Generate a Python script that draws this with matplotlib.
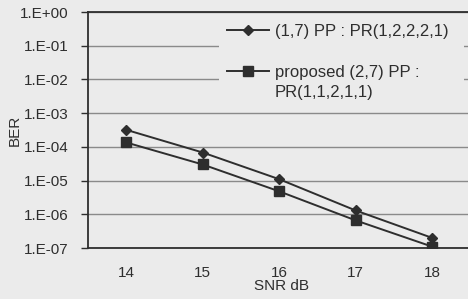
import numpy as np
import matplotlib
matplotlib.use('Agg')
import matplotlib.pyplot as plt
from matplotlib.lines import Line2D

plt.rcParams['font.family'] = ['Liberation Sans', 'DejaVu Sans']

# Data.
snr = [14, 15, 16, 17, 18]
ber_17pp = [3.2e-4, 6.8e-5, 1.1e-5, 1.3e-6, 2.0e-7]
ber_27pp = [1.35e-4, 3.0e-5, 4.8e-6, 6.6e-7, 1.1e-7]
ytick_vals = [1e0, 1e-1, 1e-2, 1e-3, 1e-4, 1e-5, 1e-6, 1e-7]
ytick_labels = ['1.E+00', '1.E-01', '1.E-02', '1.E-03', '1.E-04', '1.E-05', '1.E-06', '1.E-07']
label_17pp = '(1,7) PP : PR(1,2,2,2,1)'
label_27pp = ['proposed (2,7) PP :', 'PR(1,1,2,1,1)']

bg = '#ebebeb'
ink = '#2e2e2e'

fig = plt.figure(figsize=(4.68, 2.99), dpi=100, facecolor=bg)
ax = fig.add_axes([88/468., 1 - 248/299., 380/468., 236/299.])
ax.set_facecolor(bg)

l1, = ax.plot(snr, ber_17pp, '-D', color=ink, lw=1.4, ms=5.5)
l2, = ax.plot(snr, ber_27pp, '-s', color=ink, lw=1.4, ms=7)

ax.set_yscale('log')
ax.set_ylim(1e-7, 1e0)
ax.set_xlim(13.5, 18.47)
ax.set_yticks(ytick_vals)
ax.set_yticklabels(ytick_labels)
ax.minorticks_off()
ax.set_xticks(snr)
ax.tick_params(axis='x', length=0, pad=13, labelsize=11, colors=ink)
ax.tick_params(axis='y', length=5, width=1, pad=9, labelsize=11, colors=ink)

ax.grid(axis='y', color='#8a8a8a', lw=1)
ax.set_axisbelow(True)

for s in ['left', 'bottom', 'top']:
    ax.spines[s].set_color(ink)
    ax.spines[s].set_linewidth(1.3)
ax.spines['right'].set_visible(False)

ax.set_ylabel('BER', fontsize=11, color=ink)
ax.yaxis.set_label_coords(-0.175, 0.5)
ax.set_xlabel('SNR dB', fontsize=11, color=ink)
ax.xaxis.set_label_coords(0.51, -0.13)

# Legend: blank rows keep the second handle on the first line of its label.
blank = Line2D([], [], linestyle='none', marker='none')
leg = ax.legend([l1, blank, l2, blank], [label_17pp, ' ', label_27pp[0], label_27pp[1]],
                loc='upper left', bbox_to_anchor=(0.345, 0.4, 0.645, 0.585), mode='expand',
                fontsize=12, frameon=True, facecolor=bg, edgecolor='none', framealpha=1,
                handlelength=2.5, handletextpad=0.35, labelspacing=0.33,
                borderpad=0.5, borderaxespad=0, fancybox=False)
for t in leg.get_texts():
    t.set_color(ink)

fig.savefig('out.png', dpi=100, facecolor=bg)
